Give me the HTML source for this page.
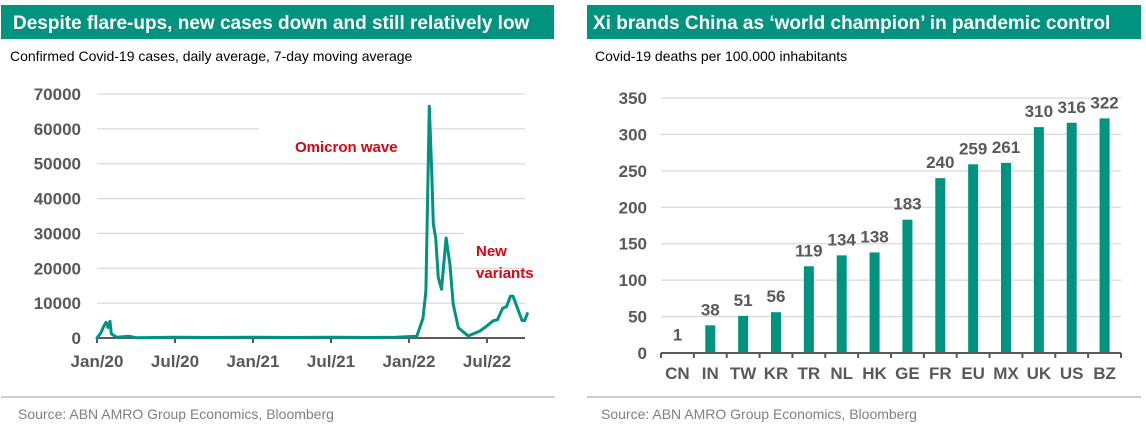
<!DOCTYPE html>
<html><head><meta charset="utf-8">
<style>
body{margin:0;background:#fff;width:1146px;height:426px;overflow:hidden;font-family:"Liberation Sans",Arial,sans-serif;}
svg text{font-family:"Liberation Sans",Arial,sans-serif;}
</style></head>
<body>
<svg id="svg" width="1146" height="426" viewBox="0 0 1146 426">
  <g>
    <rect x="1" y="5" width="553" height="34" fill="#00937f"/>
    <text x="13" y="29" font-size="19" font-weight="bold" fill="#fff">Despite flare-ups, new cases down and still relatively low</text>
    <text x="10" y="61" font-size="14" fill="#000">Confirmed Covid-19 cases, daily average, 7-day moving average</text>
    <g id="leftGrid"></g>
    <g id="leftY"></g>
    <g id="leftX"></g>
    <path id="caseLine" fill="none" stroke="#00937f" stroke-width="3" stroke-linejoin="round" stroke-linecap="round"/>
    <text x="295" y="152" font-size="15" font-weight="bold" fill="#e3000f">Omicron wave</text>
    <text x="476" y="256" font-size="15" font-weight="bold" fill="#e3000f">New</text>
    <text x="476" y="278" font-size="15" font-weight="bold" fill="#e3000f">variants</text>
    <line x1="1" y1="397" x2="555" y2="397" stroke="#bfbfbf" stroke-width="1.5"/>
    <text x="18" y="419" font-size="14" fill="#808080">Source: ABN AMRO Group Economics, Bloomberg</text>
  </g>
  <g>
    <rect x="587" y="5" width="554" height="34" fill="#00937f"/>
    <text x="593" y="29" font-size="19" font-weight="bold" fill="#fff">Xi brands China as ‘world champion’ in pandemic control</text>
    <text x="595" y="61" font-size="14" fill="#000">Covid-19 deaths per 100.000 inhabitants</text>
    <g id="rightGrid"></g>
    <g id="bars"></g>
    <g id="rightX"></g>
    <line x1="587" y1="397" x2="1141" y2="397" stroke="#bfbfbf" stroke-width="1.5"/>
    <text x="601" y="419" font-size="14" fill="#808080">Source: ABN AMRO Group Economics, Bloomberg</text>
  </g>
</svg>
<script>
// Left chart data (months since Jan 2020, daily cases)
const caseMonths = [0,0.3,0.5,0.7,0.85,1.0,1.1,1.5,2.5,3,6,9,12,15,18,21,23,24.6,25.08,25.3,25.56,25.75,25.87,26.05,26.25,26.5,26.85,27.15,27.4,27.8,28.56,29.46,30,30.5,30.8,31.2,31.5,31.8,32.0,32.4,32.7,32.9,33.1];
const caseValues = [0,1500,3200,4500,3000,4800,1200,200,500,100,200,150,200,150,200,150,200,500,5700,13500,66500,47000,32700,28700,17300,14000,28700,21200,9700,2900,600,2000,3500,5000,5200,8500,9000,12000,12000,8000,5000,5000,7000];
const leftTicks = [0,10000,20000,30000,40000,50000,60000,70000];
const xTickLabels = ["Jan/20","Jul/20","Jan/21","Jul/21","Jan/22","Jul/22"];
// Right chart data
const countries = ["CN","IN","TW","KR","TR","NL","HK","GE","FR","EU","MX","UK","US","BZ"];
const deaths = [1,38,51,56,119,134,138,183,240,259,261,310,316,322];
const rightTicks = [0,50,100,150,200,250,300,350];

const NS="http://www.w3.org/2000/svg";
function mk(tag,attrs,parent){const e=document.createElementNS(NS,tag);for(const k in attrs)e.setAttribute(k,attrs[k]);parent.appendChild(e);return e;}

const lx=m=>97+m*13;
const ly=v=>338-v*(244/70000);
const lg=document.getElementById('leftGrid'), lyg=document.getElementById('leftY'), lxg=document.getElementById('leftX');
leftTicks.forEach(t=>{
  if(t>0){
    let segs=[[97,525]];
    if(t===60000) segs=[[97,259],[430,525]];
    if(t===30000) segs=[[97,464]];
    segs.forEach(s=>{
      const l=mk('line',{x1:s[0],x2:s[1],y1:ly(t),y2:ly(t),stroke:'#d9d9d9','stroke-width':1.3},lg);
      
      
    });
  }
  const tx=mk('text',{x:81,y:ly(t)+6,'text-anchor':'end','font-size':17,'font-weight':'bold',fill:'#595959'},lyg);
  tx.textContent=t;
  
  
});
const ax=mk('line',{x1:97,x2:525,y1:338,y2:338,stroke:'#595959','stroke-width':2},lxg);


xTickLabels.forEach((lab,i)=>{
  const x=lx(i*6);
  const tk=mk('line',{x1:x,x2:x,y1:338,y2:343,stroke:'#595959','stroke-width':2},lxg);
  
  
  const tx=mk('text',{x:x,y:367,'text-anchor':'middle','font-size':17,'font-weight':'bold',fill:'#595959'},lxg);
  tx.textContent=lab;
  
  
});
document.getElementById('caseLine').setAttribute('d',caseMonths.map((m,i)=>(i?'L':'M')+lx(m).toFixed(1)+','+ly(caseValues[i]).toFixed(1)).join(''));

const x0=661,x1=1121,bw=(x1-x0)/countries.length;
const ry=v=>353-v*(255/350);
const rg=document.getElementById('rightGrid'), bg=document.getElementById('bars'), rxg=document.getElementById('rightX');
rightTicks.forEach(t=>{
  if(t>0){
    const l=mk('line',{x1:x0,x2:x1,y1:ry(t),y2:ry(t),stroke:'#d9d9d9','stroke-width':1.3},rg);
    
    
  }
  const tx=mk('text',{x:647,y:ry(t)+6,'text-anchor':'end','font-size':17,'font-weight':'bold',fill:'#595959'},rg);
  tx.textContent=t;
  
  
});
countries.forEach((c,i)=>{
  const cx=x0+bw*(i+0.5), v=deaths[i];
  const r=mk('rect',{x:cx-5,y:ry(v),width:10,height:353-ry(v),fill:'#00937f'},bg);
  
  
  const vt=mk('text',{x:cx,y:ry(v)-(i===0?12:10),'text-anchor':'middle','font-size':17,'font-weight':'bold',fill:'#595959'},bg);
  vt.textContent=v;
  
  
  const ct=mk('text',{x:cx,y:379,'text-anchor':'middle','font-size':17,'font-weight':'bold',fill:'#595959'},rxg);
  ct.textContent=c;
  
  
});
const rax=mk('line',{x1:x0,x2:x1,y1:353,y2:353,stroke:'#595959','stroke-width':2},rxg);


for(let i=0;i<=countries.length;i++){
  const t=mk('line',{x1:x0+bw*i,x2:x0+bw*i,y1:353,y2:358,stroke:'#595959','stroke-width':2},rxg);
  
  
}
</script>
</body></html>
